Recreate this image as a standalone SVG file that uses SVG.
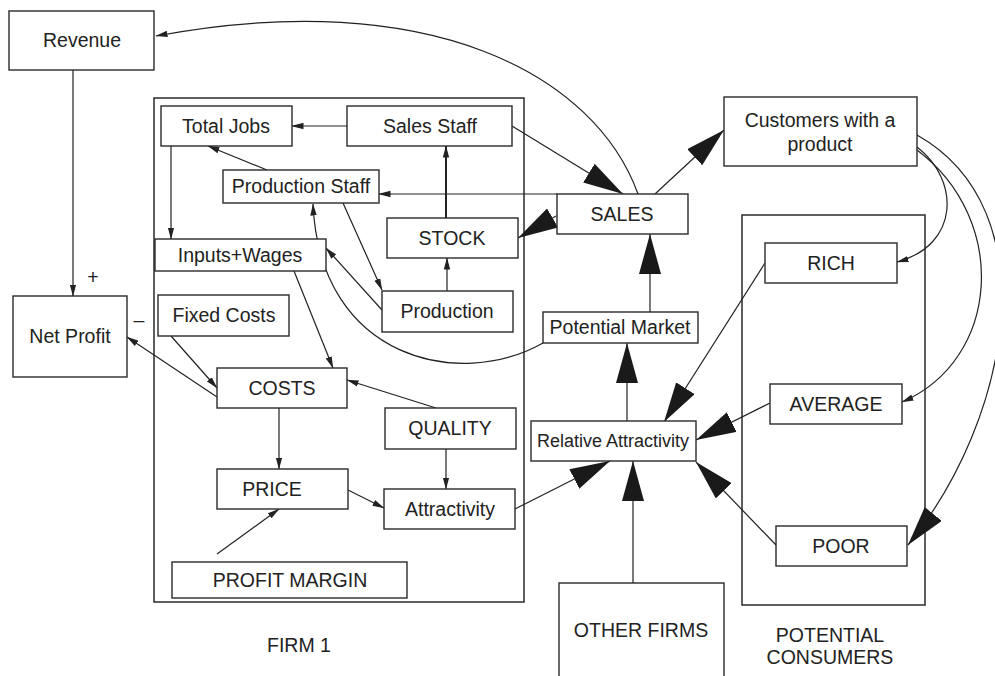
<svg xmlns="http://www.w3.org/2000/svg" width="995" height="676" viewBox="0 0 995 676">
  <style>
    .box { fill: #ffffff; stroke: #2a2a2a; stroke-width: 1.4; }
    .frame { fill: none; stroke: #2a2a2a; stroke-width: 1.5; }
    .t { font-family: "Liberation Sans", Arial, sans-serif; font-size: 19.5px; fill: #222222; text-anchor: middle; }
    .ts { font-size: 18px; }
    .ln { fill: none; stroke: #222222; stroke-width: 1.2; }
    .thin { marker-end: url(#sa); }
    .big { marker-end: url(#ba); }
  </style>
  <defs>
    <marker id="sa" markerUnits="userSpaceOnUse" viewBox="0 0 12 8" markerWidth="12" markerHeight="8" refX="11.5" refY="4" orient="auto">
      <path d="M0,0.8 L12,4 L0,7.2 z" fill="#222222"/>
    </marker>
    <marker id="ba" markerUnits="userSpaceOnUse" viewBox="0 0 40 22" markerWidth="40" markerHeight="22" refX="40" refY="11" orient="auto">
      <path d="M0,0 L40,11 L0,22 z" fill="#1a1a1a"/>
    </marker>
  </defs>

  <!-- enclosing frames and their captions -->
  <g id="firm1">
    <rect class="frame" x="154" y="98" width="370" height="504"/>
    <text class="t" x="299" y="652">FIRM 1</text>
  </g>
  <g id="potential-consumers">
    <rect class="frame" x="742" y="215" width="183" height="390"/>
    <text class="t" x="830" y="642">POTENTIAL</text>
    <text class="t" x="830" y="664">CONSUMERS</text>
  </g>

  <!-- connectors -->
  <g id="connectors">
    <path class="ln thin" d="M73,70 L73,296"/>
    <path class="ln thin" d="M638,194 C595,75 430,-15 156,36"/>
    <path class="ln thin" d="M347,126 L292,126"/>
    <path class="ln thin" d="M267,170 L208,146"/>
    <path class="ln thin" d="M171,146 L171,239"/>
    <path class="ln thin" d="M557,194 L379,194"/>
    <path class="ln thin" style="stroke-width:2" d="M446,218 L446,146"/>
    <path class="ln thin" d="M447,291 L447,258"/>
    <path class="ln thin" d="M382,310 L326,248"/>
    <path class="ln thin" d="M343,203 L382,290"/>
    <path class="ln thin" d="M543,343 C460,390 320,360 313,204"/>
    <path class="ln thin" d="M294,271 L333,368"/>
    <path class="ln thin" d="M171,336 L217,388"/>
    <path class="ln thin" d="M217,397 L127,337"/>
    <path class="ln thin" d="M436,408 L347,380"/>
    <path class="ln thin" d="M446,449 L446,489"/>
    <path class="ln thin" d="M279,408 L279,469"/>
    <path class="ln thin" d="M348,490 L384,508"/>
    <path class="ln thin" d="M217,554 L279,509"/>
    <path class="ln big" d="M512,126 L623,194"/>
    <path class="ln big" d="M556,216 L518,238"/>
    <path class="ln big" d="M655,194 L724,130"/>
    <path class="ln big" d="M650,312 L650,234"/>
    <path class="ln big" d="M627,421 L627,343"/>
    <path class="ln big" d="M515,509 L610,461"/>
    <path class="ln big" d="M633,583 L633,461"/>
    <path class="ln big" d="M765,263 L664,422"/>
    <path class="ln big" d="M770,403 L696,440"/>
    <path class="ln big" d="M776,545 L696,462"/>
    <path class="ln thin" d="M917,147 C960,180 960,245 897,262"/>
    <path class="ln thin" d="M917,150 C1010,220 1000,360 902,402"/>
    <path class="ln big" d="M917,135 C1050,210 1010,420 908,545"/>
  </g>

  <!-- nodes -->
  <g id="revenue">
    <rect class="box" x="9" y="11" width="145" height="59"/>
    <text class="t" x="82" y="47">Revenue</text>
  </g>
  <g id="net-profit">
    <rect class="box" x="13" y="296" width="114" height="81"/>
    <text class="t" x="70" y="343">Net Profit</text>
    <text class="t" x="93" y="284">+</text>
    <text class="t" x="139" y="327">–</text>
  </g>
  <g id="total-jobs">
    <rect class="box" x="161" y="106" width="131" height="40"/>
    <text class="t" x="226" y="133">Total Jobs</text>
  </g>
  <g id="sales-staff">
    <rect class="box" x="347" y="106" width="165" height="40"/>
    <text class="t" x="430" y="133">Sales Staff</text>
  </g>
  <g id="production-staff">
    <rect class="box" x="223" y="170" width="156" height="33"/>
    <text class="t" x="301" y="193">Production Staff</text>
  </g>
  <g id="inputs-wages">
    <rect class="box" x="155" y="239" width="171" height="32"/>
    <text class="t" x="240" y="262">Inputs+Wages</text>
  </g>
  <g id="stock">
    <rect class="box" x="387" y="218" width="131" height="40"/>
    <text class="t" x="452" y="245">STOCK</text>
  </g>
  <g id="production">
    <rect class="box" x="382" y="291" width="131" height="41"/>
    <text class="t" x="447" y="318">Production</text>
  </g>
  <g id="fixed-costs">
    <rect class="box" x="158" y="295" width="131" height="41"/>
    <text class="t" x="224" y="322">Fixed Costs</text>
  </g>
  <g id="costs">
    <rect class="box" x="217" y="368" width="130" height="40"/>
    <text class="t" x="282" y="395">COSTS</text>
  </g>
  <g id="quality">
    <rect class="box" x="385" y="408" width="131" height="41"/>
    <text class="t" x="450" y="435">QUALITY</text>
  </g>
  <g id="price">
    <rect class="box" x="217" y="469" width="131" height="40"/>
    <text class="t" x="272" y="496">PRICE</text>
  </g>
  <g id="attractivity">
    <rect class="box" x="384" y="489" width="131" height="40"/>
    <text class="t" x="450" y="516">Attractivity</text>
  </g>
  <g id="profit-margin">
    <rect class="box" x="172" y="562" width="235" height="36"/>
    <text class="t" x="290" y="587">PROFIT MARGIN</text>
  </g>
  <g id="sales">
    <rect class="box" x="557" y="194" width="131" height="40"/>
    <text class="t" x="622" y="221">SALES</text>
  </g>
  <g id="customers">
    <rect class="box" x="724" y="97" width="193" height="69"/>
    <text class="t" x="820" y="127">Customers with a</text>
    <text class="t" x="820" y="151">product</text>
  </g>
  <g id="potential-market">
    <rect class="box" x="543" y="312" width="155" height="31"/>
    <text class="t" x="620" y="334">Potential Market</text>
  </g>
  <g id="relative-attractivity">
    <rect class="box" x="531" y="421" width="165" height="40"/>
    <text class="t ts" x="613" y="447">Relative Attractivity</text>
  </g>
  <g id="other-firms">
    <rect class="box" x="559" y="583" width="165" height="100"/>
    <text class="t" x="641" y="637">OTHER FIRMS</text>
  </g>
  <g id="rich">
    <rect class="box" x="765" y="243" width="132" height="40"/>
    <text class="t" x="831" y="270">RICH</text>
  </g>
  <g id="average">
    <rect class="box" x="770" y="384" width="132" height="40"/>
    <text class="t" x="836" y="411">AVERAGE</text>
  </g>
  <g id="poor">
    <rect class="box" x="776" y="526" width="131" height="40"/>
    <text class="t" x="841" y="553">POOR</text>
  </g>
</svg>
